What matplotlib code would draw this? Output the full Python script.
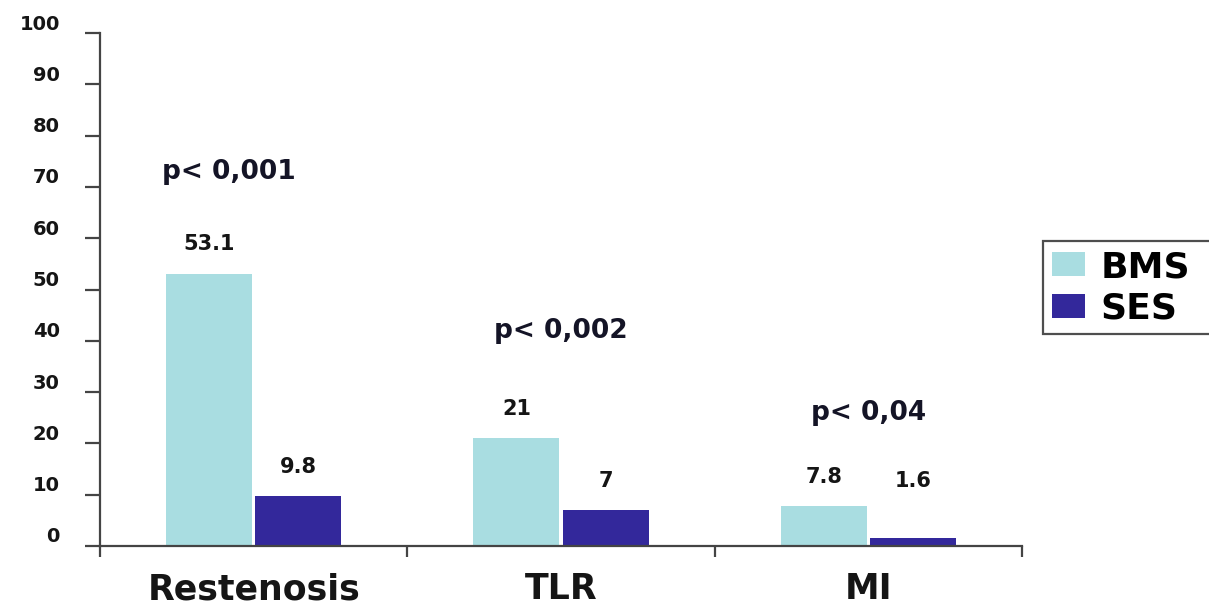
import numpy as np
import matplotlib
matplotlib.use("Agg")
from matplotlib import pyplot as plt
from matplotlib import transforms as mtransforms

###--- Data ---###
categories = ["Restenosis", "TLR", "MI"]
bms = [53.1, 21, 7.8]
ses = [9.8, 7, 1.6]
p_values = ["p< 0,001", "p< 0,002", "p< 0,04"]
p_y = [73, 42, 26]
p_dx = [-0.08, 0.0, 0.0]
yticks = [0, 10, 20, 30, 40, 50, 60, 70, 80, 90, 100]

c_bms = "#A9DDE1"
c_ses = "#33289B"
c_axis = "#444444"
c_text = "#151515"

plt.rcParams["font.family"] = ["DejaVu Sans"]
plt.rcParams["font.weight"] = "bold"

fig = plt.figure(figsize=(12.09, 6.12), dpi=100)
ax = fig.add_axes([100/1209, 1-546/612, (1022-100)/1209, (546-33)/612])

x = np.arange(len(categories))
w = 0.28
b1 = ax.bar(x - w/2 - 0.005, bms, w, color=c_bms, label="BMS")
b2 = ax.bar(x + w/2 + 0.005, ses, w, color=c_ses, label="SES")

###--- value labels ---###
for bars, vals in [(b1, bms), (b2, ses)]:
    for r, v in zip(bars, vals):
        ax.annotate(("%g" % v), (r.get_x()+r.get_width()/2, max(v, 7)),
                    xytext=(0, 21), textcoords="offset points",
                    ha="center", va="center", fontsize=15, fontweight="bold", color=c_text)

###--- p values ---###
for k in range(len(categories)):
    ax.text(x[k]+p_dx[k], p_y[k], p_values[k], ha="center", va="center",
            fontsize=19, fontweight="bold", color="#141426")

###--- axes ---###
ax.set_xlim(-0.5, 2.5)
ax.set_ylim(0, 100)
for s in ["top", "right"]:
    ax.spines[s].set_visible(False)
for s in ["left", "bottom"]:
    ax.spines[s].set_color(c_axis)
    ax.spines[s].set_linewidth(1.6)

ax.set_yticks(yticks)
ax.set_yticklabels([str(t) for t in yticks])
ax.tick_params(axis="y", direction="out", length=11, width=1.6, color=c_axis,
               pad=18, labelsize=14, labelcolor=c_text)
shift = mtransforms.ScaledTranslation(0, 0.11, fig.dpi_scale_trans)
for lab in ax.get_yticklabels():
    lab.set_transform(lab.get_transform() + shift)
    lab.set_fontweight("bold")

ax.set_xticks(x)
ax.set_xticklabels(categories)
ax.set_xticks([-0.5, 0.5, 1.5, 2.5], minor=True)
ax.tick_params(axis="x", which="major", length=0, pad=19, labelsize=25, labelcolor=c_text)
ax.tick_params(axis="x", which="minor", direction="out", length=8, width=1.6, color=c_axis)
for lab in ax.get_xticklabels():
    lab.set_fontweight("bold")

leg = fig.legend(handles=[b1, b2], labels=["BMS", "SES"], loc="upper left",
                 bbox_to_anchor=(1043/1209, 1-338/612, 200/1209, 97/612), mode="expand",
                 borderaxespad=0, fontsize=26, frameon=True, fancybox=False,
                 handlelength=0.9, handleheight=0.65, handletextpad=0.45,
                 labelspacing=0.2, borderpad=0.25)
leg.get_frame().set_edgecolor("#222222")
leg.get_frame().set_linewidth(1.6)
for t in leg.get_texts():
    t.set_fontweight("bold")

plt.savefig("out.png", dpi=100)
